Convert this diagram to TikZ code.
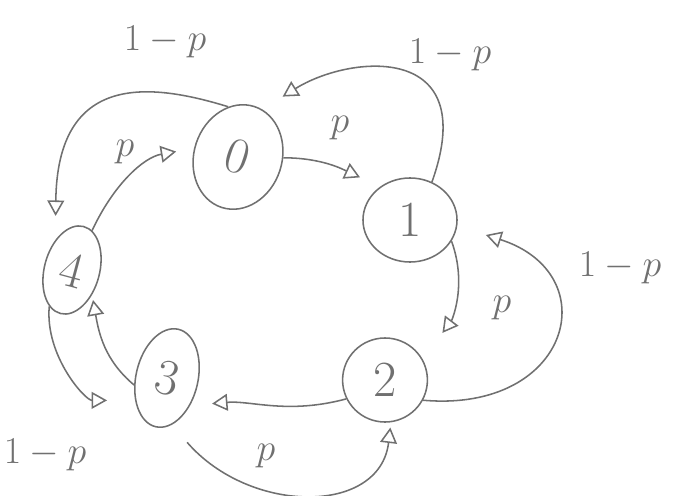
\RequirePackage{fix-cm}
\documentclass[tikz,border=0pt]{standalone}
\usetikzlibrary{arrows.meta,shapes.geometric}
\definecolor{pencil}{RGB}{112,112,112}

\begin{document}
\begin{tikzpicture}[x=0.025cm, y=0.025cm,
    state/.style={ellipse, draw=pencil, line width=1.1pt, inner sep=0pt, text=pencil, font=\fontsize{36}{40}\selectfont},
    arr/.style={draw=pencil, line width=1.1pt, -{Triangle[open, length=11pt, width=12pt]}},
    lbl/.style={text=pencil, font=\fontsize{27}{30}\selectfont}]
    \useasboundingbox (0,0) rectangle (676,495);

    % Draw nodes
    \node[state, minimum width=2.2cm, minimum height=2.65cm, rotate=-18] (s0) at (238,338) {0};
    \node[state, minimum width=2.35cm, minimum height=2.1cm] (s1) at (410,275) {1};
    \node[state, minimum width=2.12cm, minimum height=2.1cm] (s2) at (385,115) {2};
    \node[state, minimum width=1.55cm, minimum height=2.5cm, rotate=-13] (s3) at (167,117) {3};
    \node[state, minimum width=1.38cm, minimum height=2.25cm, rotate=-15] (s4) at (72,225) {4};

    % Draw connections
    \draw[arr, shorten >=0.55cm] (s0.17) to[out=0, in=155] (s1.132);
    \draw[arr, shorten >=0.6cm] (s1.60) .. controls +(50,140) and +(88,55) .. (s0.81);
    \draw[arr, shorten >=0.82cm] (s1.333) to[out=-70, in=53] (s2.29);
    \draw[arr, shorten >=0.75cm] (s2.332) .. controls +(148,-13) and +(150,-48) .. (s1.353);
    \draw[arr, shorten >=0.55cm] (s2.206) to[out=195, in=5] (s3.323);
    \draw[arr, shorten <=0.58cm, shorten >=0.13cm] (s3.289) .. controls +(78,-90) and +(-11,-93) .. (s2.278);
    \draw[arr, shorten >=0.13cm] (s3.205) to[out=140, in=-80] (s4.324);
    \draw[arr, shorten >=0.7cm] (s4.253) to[out=-95, in=180] (s3.228);
    \draw[arr, shorten >=0.45cm] (s4.78) to[out=65, in=190] (s0.187);
    \draw[arr, shorten >=0.6cm] (s0.119) .. controls +(-78,24) and +(2,168) .. (s4.134);

    % Labels
    \node[lbl] (l01) at (340,367) {$p$};
    \node[lbl] (l10) at (450,440) {$1-p$};
    \node[lbl] (l12) at (502,187) {$p$};
    \node[lbl] (l21) at (620,227) {$1-p$};
    \node[lbl] (l23) at (266,39) {$p$};
    \node[lbl] (l43) at (45,40) {$1-p$};
    \node[lbl] (l40) at (125,343) {$p$};
    \node[lbl] (l04) at (165,453) {$1-p$};
\end{tikzpicture}
\end{document}
